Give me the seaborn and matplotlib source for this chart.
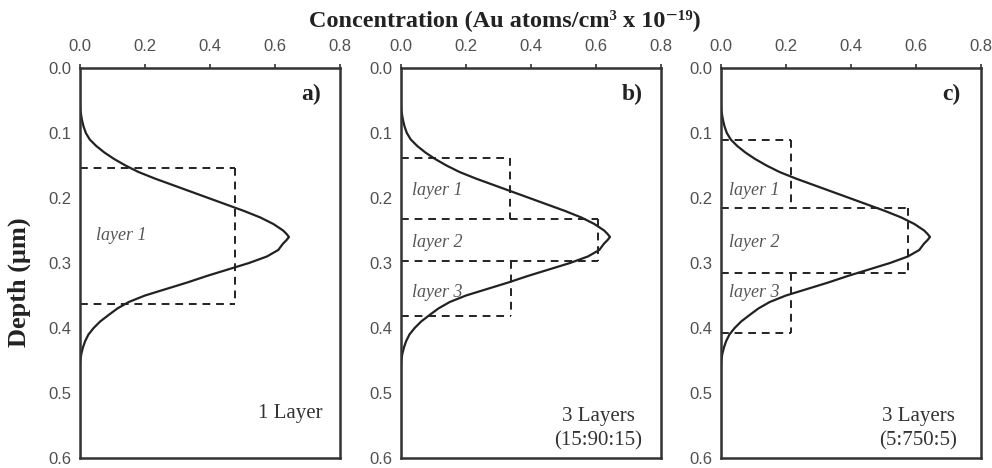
import numpy as np
import pandas as pd
import matplotlib
matplotlib.use("Agg")
import matplotlib.pyplot as plt
import seaborn as sns

# Au implantation profile: depth (µm) vs concentration (x 1e19 atoms/cm^3)
depth = [0.0, 0.055, 0.065, 0.08, 0.09, 0.10, 0.11, 0.12, 0.13, 0.14, 0.15,
         0.16, 0.17, 0.18, 0.19, 0.20, 0.21, 0.22, 0.23, 0.24, 0.25, 0.255,
         0.26, 0.265, 0.27, 0.28, 0.29, 0.30, 0.31, 0.32, 0.33, 0.34, 0.35,
         0.36, 0.37, 0.38, 0.39, 0.40, 0.41, 0.42, 0.43, 0.44, 0.45, 0.46,
         0.60]
conc = [0.0, 0.0, 0.001, 0.006, 0.011, 0.018, 0.03, 0.05, 0.075, 0.105, 0.14,
        0.18, 0.23, 0.285, 0.34, 0.395, 0.45, 0.505, 0.555, 0.595, 0.625, 0.635,
        0.643, 0.635, 0.625, 0.61, 0.575, 0.52, 0.455, 0.39, 0.33, 0.265, 0.20,
        0.15, 0.115, 0.088, 0.062, 0.042, 0.026, 0.016, 0.009, 0.004, 0.001, 0.0,
        0.0]

# Layer models: top depth, bottom depth, mean concentration of each layer
layer_tops = {"a": [0.154], "b": [0.139, 0.232, 0.297], "c": [0.111, 0.216, 0.315]}
layer_bottoms = {"a": [0.363], "b": [0.232, 0.297, 0.381], "c": [0.216, 0.315, 0.408]}
layer_conc = {"a": [0.478], "b": [0.335, 0.606, 0.338], "c": [0.214, 0.575, 0.214]}
label_depths = {"a": [0.258], "b": [0.189, 0.269, 0.346], "c": [0.189, 0.269, 0.346]}

panel_keys = ["a", "b", "c"]
panel_tags = ["a)", "b)", "c)"]
panel_notes = ["1 Layer", "3 Layers\n(15:90:15)", "3 Layers\n(5:750:5)"]
layer_names = ["layer 1", "layer 2", "layer 3"]
x_ticks = [0.0, 0.2, 0.4, 0.6, 0.8]
y_ticks = [0.0, 0.1, 0.2, 0.3, 0.4, 0.5, 0.6]

sns.set_theme(style="white")
plt.rcParams["font.family"] = ["Liberation Sans", "DejaVu Sans"]

W, H = 992, 468
fig = plt.figure(figsize=(W / 100, H / 100), dpi=100)
lefts = [80, 401, 721]
axes = [fig.add_axes([l / W, 1 - 458 / H, 260 / W, 390 / H]) for l in lefts]

profile = pd.DataFrame({"depth": depth, "conc": conc})
ink = "#222222"
serif = ["Liberation Serif", "DejaVu Serif"]
dash = (0, (4, 3))

for ax, key, tag, note in zip(axes, panel_keys, panel_tags, panel_notes):
    sns.lineplot(data=profile, x="conc", y="depth", orient="y", ax=ax,
                 color=ink, linewidth=1.6)
    tops, bots, vals = layer_tops[key], layer_bottoms[key], layer_conc[key]
    # horizontal layer boundaries, each drawn once from the surface axis outwards
    bounds = sorted(set(tops) | set(bots))
    for d in bounds:
        reach = max(v for t, b, v in zip(tops, bots, vals) if t == d or b == d)
        ax.plot([0, reach], [d, d], color=ink, linewidth=1.4, linestyle=dash)
    # vertical edge of each layer at its mean concentration
    for t, b, v in zip(tops, bots, vals):
        ax.plot([v, v], [t, b], color=ink, linewidth=1.4, linestyle=dash)
    x0 = {"a": 0.05, "b": 0.034, "c": 0.025}[key]
    for name, yd in zip(layer_names, label_depths[key]):
        ax.text(x0, yd, name, family=serif, style="italic", fontsize=13,
                color="#555555", va="center", ha="left")
    ax.set_xlim(0, 0.8)
    ax.set_ylim(0.6, 0.0)
    ax.set_xticks(x_ticks)
    ax.set_yticks(y_ticks)
    ax.set_xticklabels([f"{v:.1f}" for v in x_ticks])
    ax.set_yticklabels([f"{v:.1f}" for v in y_ticks])
    ax.xaxis.tick_top()
    ax.tick_params(axis="both", direction="out", length=3, width=1.2,
                   colors="#333333", labelcolor="#505050", labelsize=12, pad=3)
    ax.tick_params(axis="x", pad=7)
    ax.set_xlabel("")
    ax.set_ylabel("")
    for s in ax.spines.values():
        s.set_color("#333333")
        s.set_linewidth(1.8)
    ax.text(0.71, 0.04, tag, family=serif, weight="bold", fontsize=17,
            color=ink, ha="center", va="center")
    if "\n" in note:
        ax.text(0.606, 0.555, note, family=serif, fontsize=15, color="#333333",
                ha="center", va="center", multialignment="center",
                linespacing=1.3)
    else:
        ax.text(0.748, 0.532, note, family=serif, fontsize=15, color="#333333",
                ha="right", va="center")

fig.text(505 / W, 1 - 20 / H, "Concentration (Au atoms/cm\u00b3 x 10\u207b\u00b9\u2079)",
         family=serif, weight="bold", fontsize=17.5, ha="center", va="center",
         color=ink)
fig.text(19 / W, 1 - 282 / H, "Depth (\u03bcm)", family=serif, weight="bold",
         fontsize=19, rotation=90, ha="center", va="center", color=ink)

fig.savefig("out.png", dpi=100, facecolor="white")
